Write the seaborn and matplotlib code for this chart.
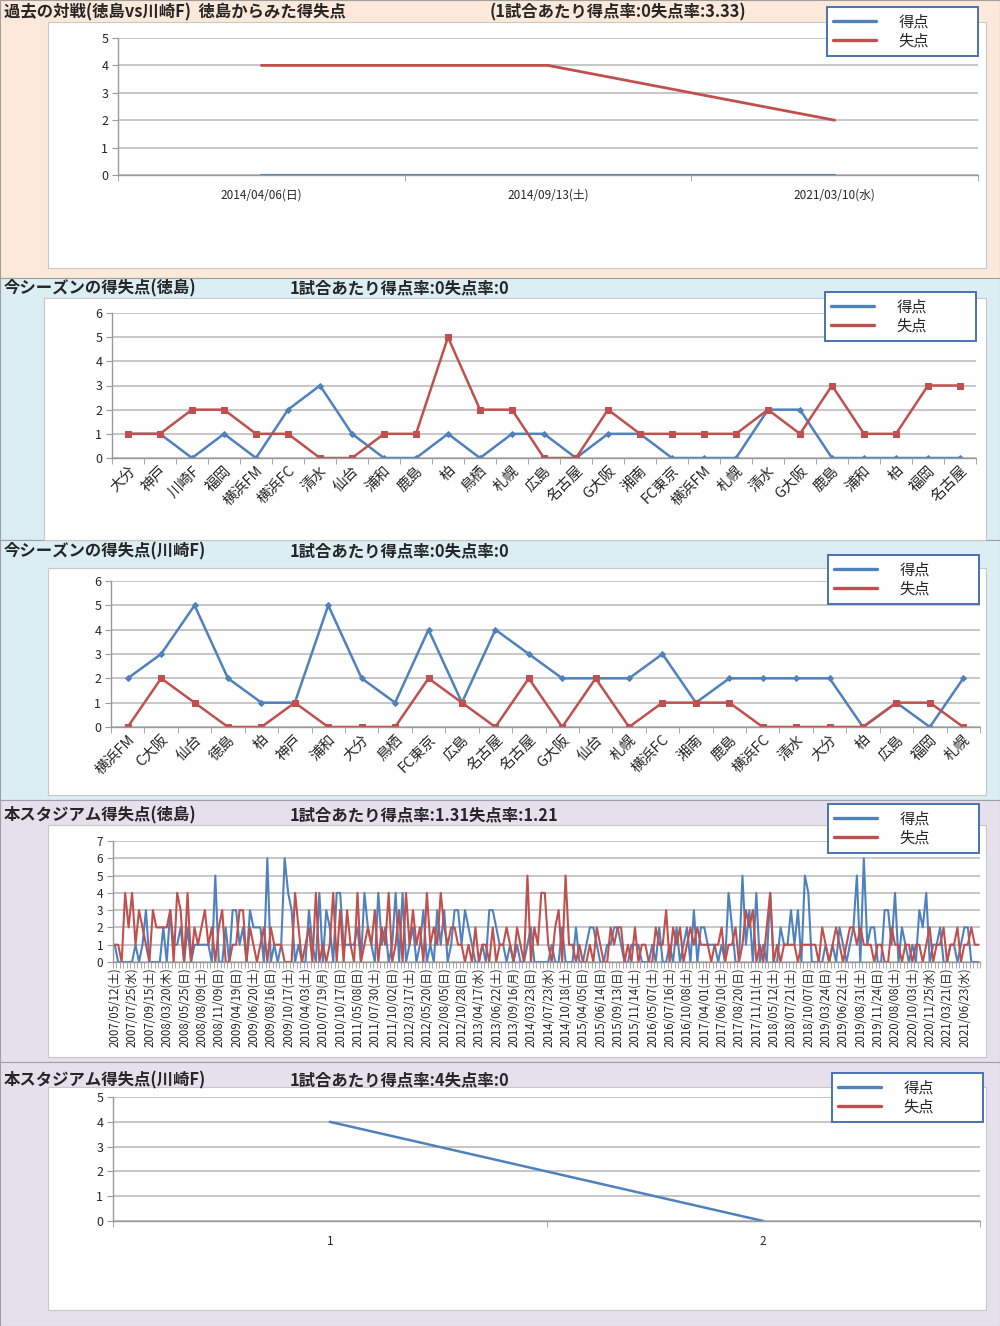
import numpy as np
import pandas as pd
import matplotlib.pyplot as plt
import seaborn as sns
from matplotlib.patches import Rectangle
from matplotlib.lines import Line2D

# --- data -------------------------------------------------------------
# panel 1: past matches (Tokushima vs Kawasaki F)
past_dates = ["2014/04/06(日)", "2014/09/13(土)", "2021/03/10(水)"]
past_for = [0, 0, 0]
past_against = [4, 4, 2]

# panel 2: this season (Tokushima)
toku_opp = ["大分", "神戸", "川崎F", "福岡", "横浜FM", "横浜FC", "清水", "仙台", "浦和",
            "鹿島", "柏", "鳥栖", "札幌", "広島", "名古屋", "G大阪", "湘南", "FC東京",
            "横浜FM", "札幌", "清水", "G大阪", "鹿島", "浦和", "柏", "福岡", "名古屋"]
toku_for = [1, 1, 0, 1, 0, 2, 3, 1, 0, 0, 1, 0, 1, 1, 0, 1, 1, 0, 0, 0, 2, 2, 0, 0, 0, 0, 0]
toku_against = [1, 1, 2, 2, 1, 1, 0, 0, 1, 1, 5, 2, 2, 0, 0, 2, 1, 1, 1, 1, 2, 1, 3, 1, 1, 3, 3]

# panel 3: this season (Kawasaki F)
kawa_opp = ["横浜FM", "C大阪", "仙台", "徳島", "柏", "神戸", "浦和", "大分", "鳥栖",
            "FC東京", "広島", "名古屋", "名古屋", "G大阪", "仙台", "札幌", "横浜FC", "湘南",
            "鹿島", "横浜FC", "清水", "大分", "柏", "広島", "福岡", "札幌"]
kawa_for = [2, 3, 5, 2, 1, 1, 5, 2, 1, 4, 1, 4, 3, 2, 2, 2, 3, 1, 2, 2, 2, 2, 0, 1, 0, 2]
kawa_against = [0, 2, 1, 0, 0, 1, 0, 0, 0, 2, 1, 0, 2, 0, 2, 0, 1, 1, 1, 0, 0, 0, 0, 1, 1, 0]

# panel 4: this stadium (Tokushima), 250 matches, every 5th date labelled
stadium_labels = [
    "2007/05/12(土)", "2007/07/25(水)", "2007/09/15(土)", "2008/03/20(木)", "2008/05/25(日)",
    "2008/08/09(土)", "2008/11/09(日)", "2009/04/19(日)", "2009/06/20(土)", "2009/08/16(日)",
    "2009/10/17(土)", "2010/04/03(土)", "2010/07/19(月)", "2010/10/17(日)", "2011/05/08(日)",
    "2011/07/30(土)", "2011/10/02(日)", "2012/03/17(土)", "2012/05/20(日)", "2012/08/05(日)",
    "2012/10/28(日)", "2013/04/17(水)", "2013/06/22(土)", "2013/09/16(月)", "2014/03/23(日)",
    "2014/07/23(水)", "2014/10/18(土)", "2015/04/05(日)", "2015/06/14(日)", "2015/09/13(日)",
    "2015/11/14(土)", "2016/05/07(土)", "2016/07/16(土)", "2016/10/08(土)", "2017/04/01(土)",
    "2017/06/10(土)", "2017/08/20(日)", "2017/11/11(土)", "2018/05/12(土)", "2018/07/21(土)",
    "2018/10/07(日)", "2019/03/24(日)", "2019/06/22(土)", "2019/08/31(土)", "2019/11/24(日)",
    "2020/08/08(土)", "2020/10/03(土)", "2020/11/25(水)", "2021/03/21(日)", "2021/06/23(水)"]
stadium_for = [
    1, 0, 0, 0, 0, 0, 1, 0, 1, 3, 0, 0, 0, 0, 2, 0, 3, 1, 1, 2,
    0, 2, 0, 1, 1, 1, 1, 1, 0, 5, 0, 0, 2, 0, 3, 3, 1, 2, 0, 3,
    2, 2, 2, 0, 6, 0, 1, 0, 1, 6, 4, 3, 0, 1, 0, 0, 3, 1, 0, 4,
    0, 3, 2, 0, 4, 4, 1, 1, 1, 1, 2, 0, 4, 2, 1, 0, 4, 1, 2, 0,
    1, 4, 0, 4, 0, 1, 2, 0, 1, 3, 0, 1, 0, 3, 1, 3, 0, 1, 3, 3,
    1, 3, 2, 1, 0, 0, 1, 0, 3, 3, 2, 1, 1, 0, 1, 0, 1, 0, 0, 1,
    2, 0, 0, 0, 0, 0, 1, 0, 0, 2, 0, 0, 0, 2, 0, 0, 1, 2, 2, 1,
    0, 0, 1, 1, 2, 2, 1, 0, 0, 1, 1, 1, 0, 0, 0, 1, 0, 2, 0, 0,
    1, 0, 2, 0, 1, 2, 0, 3, 0, 2, 2, 1, 1, 1, 0, 1, 0, 4, 2, 0,
    0, 5, 1, 3, 0, 4, 0, 1, 0, 4, 0, 0, 2, 1, 1, 3, 1, 3, 0, 5,
    4, 0, 0, 0, 0, 1, 0, 1, 0, 2, 1, 0, 1, 2, 5, 0, 6, 1, 2, 2,
    0, 0, 3, 3, 1, 4, 0, 2, 1, 0, 1, 0, 3, 2, 4, 0, 1, 1, 2, 0,
    0, 1, 1, 0, 1, 2, 2, 0, 0, 0]
stadium_against = [
    1, 1, 0, 4, 2, 4, 1, 3, 2, 1, 0, 3, 2, 2, 2, 2, 3, 0, 4, 3,
    0, 4, 0, 2, 1, 2, 3, 1, 2, 0, 2, 3, 0, 0, 1, 1, 3, 3, 0, 2,
    1, 0, 1, 2, 0, 2, 1, 1, 1, 0, 0, 0, 4, 2, 0, 1, 2, 0, 4, 0,
    1, 0, 1, 4, 0, 3, 0, 3, 1, 0, 4, 0, 1, 2, 1, 3, 0, 2, 1, 4,
    0, 1, 3, 0, 4, 1, 3, 1, 2, 0, 4, 1, 2, 1, 4, 2, 1, 2, 2, 1,
    1, 0, 1, 0, 2, 0, 1, 1, 0, 2, 0, 1, 1, 2, 1, 0, 2, 1, 0, 5,
    0, 2, 1, 4, 4, 1, 0, 2, 3, 0, 5, 1, 1, 0, 1, 0, 0, 1, 0, 2,
    1, 0, 0, 2, 1, 2, 2, 0, 1, 0, 2, 0, 1, 1, 0, 0, 2, 1, 1, 3,
    0, 2, 1, 2, 0, 1, 2, 1, 2, 1, 1, 1, 0, 1, 1, 2, 0, 1, 1, 2,
    0, 1, 3, 2, 3, 0, 1, 0, 2, 4, 0, 1, 0, 1, 1, 1, 1, 0, 1, 1,
    1, 1, 1, 0, 2, 1, 0, 1, 2, 1, 0, 1, 2, 2, 1, 2, 1, 1, 1, 0,
    1, 1, 0, 0, 2, 1, 1, 0, 1, 1, 0, 1, 1, 0, 1, 2, 0, 1, 1, 2,
    0, 1, 1, 2, 0, 1, 1, 2, 1, 1]

# panel 5: this stadium (Kawasaki F)
kawa_std_labels = ["1", "2"]
kawa_std_for = [4, 0]
kawa_std_against = []

# --- style ------------------------------------------------------------
sns.set_style("white")
plt.rcParams['font.family'] = ['Noto Sans CJK JP', 'DejaVu Sans']

BLUE = "#4F81BD"
RED = "#C0504D"
GRID = "#B8B8B8"
W, H = 1000, 1326

fig = plt.figure(figsize=(W / 100, H / 100), dpi=100)


def px_rect(x0, y0, x1, y1, fc, ec="#A0A0A0", lw=0.8):
    fig.patches.append(Rectangle((x0 / W, 1 - y1 / H), (x1 - x0) / W, (y1 - y0) / H,
                                 transform=fig.transFigure, facecolor=fc,
                                 edgecolor=ec, linewidth=lw, zorder=-10))


def px_axes(x0, y0, x1, y1):
    ax = fig.add_axes([x0 / W, 1 - y1 / H, (x1 - x0) / W, (y1 - y0) / H])
    ax.set_facecolor("none")
    return ax


def title(y, left, right, right_x=290):
    fig.text(4 / W, 1 - y / H, left, fontsize=11.8, fontweight="bold", va="center")
    fig.text(right_x / W, 1 - y / H, right, fontsize=11.8, fontweight="bold", va="center")


def legend(x, y, w=151, h=50):
    handles = [Line2D([], [], color=BLUE, lw=2.4), Line2D([], [], color=RED, lw=2.4)]
    leg = fig.legend(handles, ["得点", "失点"], loc="upper left", mode="expand",
                     bbox_to_anchor=(x / W, 1 - (y + h) / H, w / W, h / H),
                     frameon=True, fancybox=False, edgecolor="#4A72B0", framealpha=1,
                     fontsize=11, handlelength=2.8, handletextpad=1.5, borderpad=0.4,
                     labelspacing=0.15, borderaxespad=0)
    leg.get_frame().set_linewidth(1.4)
    leg.set_zorder(20)


def style_axis(ax, n, ymax, labels, rot=0, fs=8, minor=True):
    ax.set_xlim(-0.5, n - 0.5)
    ax.set_ylim(0, ymax)
    ax.set_yticks(range(ymax + 1))
    ax.yaxis.grid(True, color=GRID, lw=1.1)
    ax.xaxis.grid(False)
    for s in ["top", "right"]:
        ax.spines[s].set_visible(False)
    for s in ["left", "bottom"]:
        ax.spines[s].set_color("#9A9A9A")
        ax.spines[s].set_linewidth(1.0)
    ax.tick_params(axis="y", length=4, color="#9A9A9A", labelsize=9, pad=3, left=True)
    ax.set_xticks(range(n))
    if rot == 45:
        ax.set_xticklabels(labels, rotation=45, ha="right", rotation_mode="anchor", fontsize=fs)
    elif rot == 90:
        ax.set_xticklabels(labels, rotation=90, fontsize=fs)
    else:
        ax.set_xticklabels(labels, fontsize=fs)
    ax.tick_params(axis="x", which="major", length=0, pad=10 if rot == 0 else 4)
    if minor:
        ax.set_xticks(np.arange(-0.5, n, 1.0), minor=True)
        ax.tick_params(axis="x", which="minor", length=4, color="#9A9A9A", bottom=True)
    ax.set_xlabel("")
    ax.set_ylabel("")
    ax.set_axisbelow(True)


def draw(ax, vals, color, marker=None, ms=0, lw=1.8):
    if len(vals) == 0:
        return
    df = pd.DataFrame({"x": np.arange(len(vals)), "y": vals})
    sns.lineplot(data=df, x="x", y="y", ax=ax, color=color, lw=lw,
                 marker=marker, markersize=ms, markeredgecolor=color, legend=False)


# --- backgrounds --------------------------------------------------------
px_rect(0, 0, 1000, 278, "#FDE9D9")
px_rect(0, 278, 1000, 540, "#DAEEF3")
px_rect(0, 540, 1000, 800, "#DAEEF3")
px_rect(0, 800, 1000, 1062, "#E5E0EC")
px_rect(0, 1062, 1000, 1326, "#E5E0EC")
px_rect(48, 22, 986, 268, "white", ec="#C8C8C8")
px_rect(44, 298, 986, 540, "white", ec="#C8C8C8")
px_rect(48, 568, 986, 795, "white", ec="#C8C8C8")
px_rect(48, 825, 986, 1057, "white", ec="#C8C8C8")
px_rect(48, 1087, 986, 1310, "white", ec="#C8C8C8")

# --- panel 1 ------------------------------------------------------------
ax1 = px_axes(118, 38, 978, 175)
draw(ax1, past_for, BLUE, lw=1.6)
draw(ax1, past_against, RED, lw=2.0)
style_axis(ax1, len(past_dates), 5, past_dates, fs=8.5)
title(12, "過去の対戦(徳島vs川崎F)  徳島からみた得失点", "(1試合あたり得点率:0失点率:3.33)", right_x=490)
legend(827, 7)

# --- panel 2 ------------------------------------------------------------
ax2 = px_axes(112, 313, 976, 458)
draw(ax2, toku_for, BLUE, marker="D", ms=3)
draw(ax2, toku_against, RED, marker="s", ms=4.5)
style_axis(ax2, len(toku_opp), 6, toku_opp, rot=45, fs=10.5)
title(288, "今シーズンの得失点(徳島)", "1試合あたり得点率:0失点率:0")
legend(825, 292)

# --- panel 3 ------------------------------------------------------------
ax3 = px_axes(111, 581, 980, 727)
draw(ax3, kawa_for, BLUE, marker="D", ms=3)
draw(ax3, kawa_against, RED, marker="s", ms=4.5)
style_axis(ax3, len(kawa_opp), 6, kawa_opp, rot=45, fs=10.5)
title(551, "今シーズンの得失点(川崎F)", "1試合あたり得点率:0失点率:0")
legend(828, 555)

# --- panel 4 ------------------------------------------------------------
ax4 = px_axes(113, 841, 980, 962)
draw(ax4, stadium_for, BLUE, lw=1.5)
draw(ax4, stadium_against, RED, lw=1.5)
n4 = len(stadium_for)
style_axis(ax4, n4, 7, [""] * n4, rot=90, fs=8)
ax4.set_xticks(np.arange(0, n4, 5))
ax4.set_xticklabels(stadium_labels, rotation=90, fontsize=8.3)
ax4.tick_params(axis="x", which="major", length=0, pad=4)
ax4.tick_params(axis="y", labelsize=8.5)
title(815, "本スタジアム得失点(徳島)", "1試合あたり得点率:1.31失点率:1.21")
legend(828, 804)

# --- panel 5 ------------------------------------------------------------
ax5 = px_axes(113, 1097, 980, 1221)
draw(ax5, kawa_std_for, BLUE, lw=1.8)
draw(ax5, kawa_std_against, RED, lw=1.8)
style_axis(ax5, len(kawa_std_labels), 5, kawa_std_labels, fs=8.5)
title(1080, "本スタジアム得失点(川崎F)", "1試合あたり得点率:4失点率:0")
legend(832, 1073)

fig.savefig("out.png", dpi=100)
